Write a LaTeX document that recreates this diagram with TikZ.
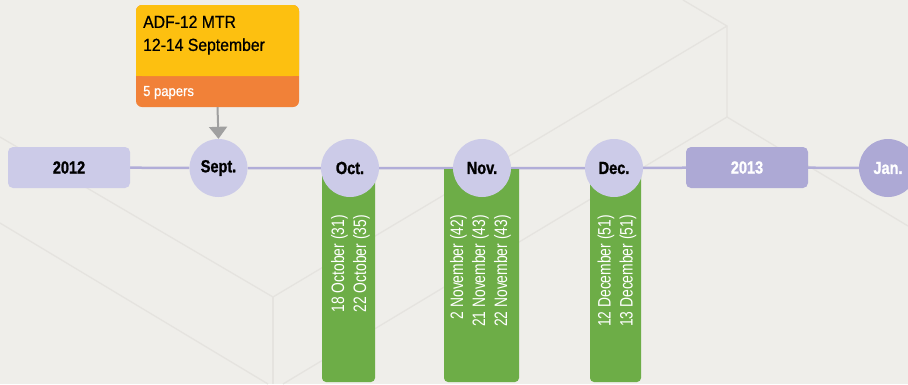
\documentclass[tikz,border=0pt]{standalone}
\usepackage{fontspec}
\setmainfont{Liberation Sans}
\newfontfamily\boxfont[FakeStretch=0.9,FakeBold=0.6]{Liberation Sans}
\newfontfamily\monthfont[FakeStretch=0.83,FakeBold=1.2]{Liberation Sans}
\newfontfamily\datefont[FakeStretch=0.77]{Liberation Sans}
\usetikzlibrary{arrows.meta}
\definecolor{bgpaper}{HTML}{EFEEEA}
\definecolor{bgline}{HTML}{E5E3DF}
\definecolor{lavlight}{HTML}{CCCBE8}
\definecolor{lavdark}{HTML}{ADA9D5}
\definecolor{railc}{HTML}{B1ADD8}
\definecolor{barc}{HTML}{6DAD47}
\definecolor{adfyellow}{HTML}{FDC010}
\definecolor{paporange}{HTML}{F18138}
\definecolor{arrgray}{HTML}{A0A0A0}
\pgfdeclarelayer{back}
\pgfdeclarelayer{rail}
\pgfsetlayers{back,rail,main}

\begin{document}
\begin{tikzpicture}[x=1pt,y=-1pt,
   month/.style={circle,fill=lavlight,minimum size=58pt,inner sep=0pt,text=black,
     font=\monthfont\bfseries\fontsize{17.5}{20}\selectfont},
   yearbox/.style={rectangle,rounded corners=5pt,fill=lavlight,minimum width=122pt,
     minimum height=41pt,inner sep=0pt,text=black,font=\monthfont\bfseries\fontsize{17.5}{20}\selectfont},
   dates/.style={rotate=90,anchor=east,align=right,inner sep=0pt,text=white,
     font=\datefont\fontsize{18}{22}\selectfont},
   boxtxt/.style={align=left,inner sep=0pt,text=black,font=\boxfont\fontsize{17.5}{23}\selectfont},
   tline/.style={draw=railc,line width=2.5pt},
   arr/.style={draw=arrgray,line width=2pt,-{Triangle[width=18pt,length=12pt]}},
   faint/.style={draw=bgline,line width=1.3pt}]
 \useasboundingbox (0,0) rectangle (908,384);
 % paper and faint pattern
 \begin{pgfonlayer}{back}
  \fill[bgpaper] (0,0) rectangle (908,384);
  \draw[faint] (683,0) -- (727,26) -- (727,117);
  \draw[faint] (0,137) -- (273,297) -- (727,26);
  \draw[faint] (273,297) -- (273,384);
  \draw[faint] (283,384) -- (727,117) -- (908,226);
  \draw[faint] (0,223) -- (268,384);
 \end{pgfonlayer}
 % green bars
 \begin{scope}
  \clip (0,169) rectangle (908,384);
  \foreach \xa/\xb in {322/375,444/519,590/641}
   \fill[barc,rounded corners=4pt] (\xa,150) rectangle (\xb,382);
 \end{scope}
 % timeline
 \node[yearbox] (y2012) at (69,167.5) {2012};
 \node[month] (sept) at (218.5,168) {Sept.};
 \node[month] (oct) at (350,168) {Oct.};
 \node[month] (nov) at (482,168) {Nov.};
 \node[month] (dec) at (614,168) {Dec.};
 \node[yearbox,fill=lavdark,text=white] (y2013) at (747,167.5) {2013};
 \node[month,fill=lavdark,text=white] (jan) at (888,168) {Jan.};
 \begin{pgfonlayer}{rail}
  \draw[tline] (y2012) -- (sept) -- (oct) -- (nov) -- (dec) -- (y2013) -- (jan);
 \end{pgfonlayer}
 % meeting box
 \node[minimum width=163pt,minimum height=102pt,inner sep=0pt,fill=paporange,
   rounded corners=6pt] (adfbox) at (217.5,56) {};
 \fill[adfyellow,rounded corners=6pt] (136,5) rectangle (299,76);
 \fill[adfyellow] (136,68) rectangle (299,76);
 \node[boxtxt,anchor=north west] (adfname) at (143,15.5) {ADF-12 MTR\\12-14 September};
 \node[boxtxt,anchor=base west,text=white,font=\boxfont\fontsize{14.5}{17}\selectfont]
   (adfpap) at (143,96) {5 papers};
 \draw[arr] (adfbox.south) -- (sept.north);
 % dates
 \node[dates] (octd) at (350.5,215) {18 October (31)\\22 October (35)};
 \node[dates] (novd) at (480.5,215) {2 November (42)\\21 November (43)\\22 November (43)};
 \node[dates] (decd) at (617,215) {12 December (51)\\13 December (51)};
\end{tikzpicture}
\end{document}
